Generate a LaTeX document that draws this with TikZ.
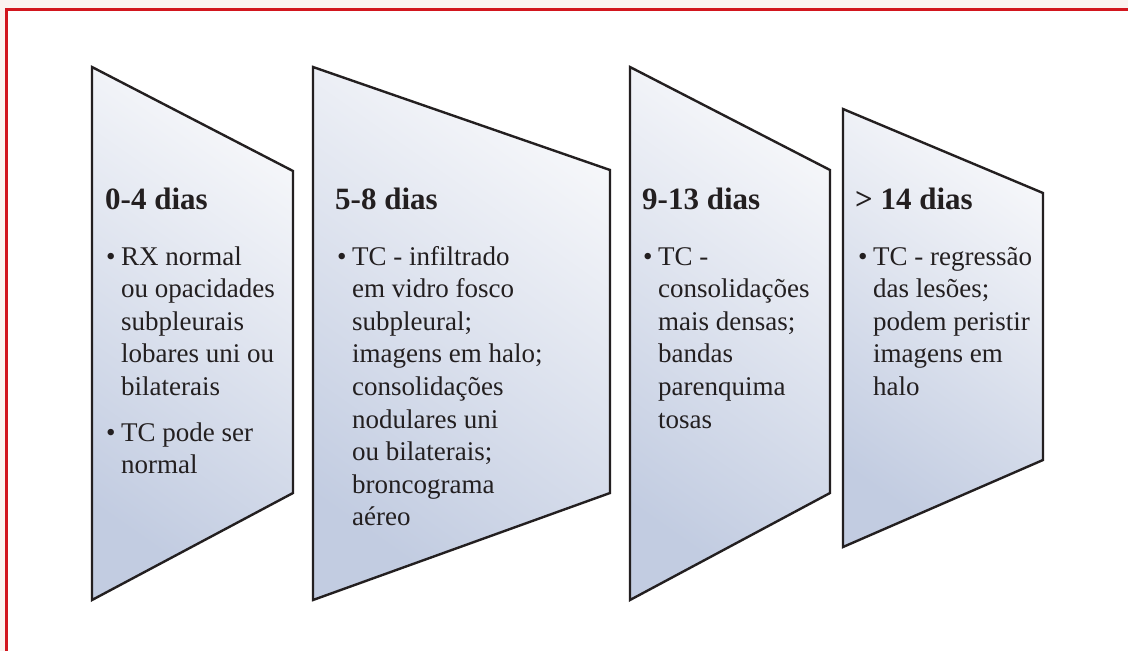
\documentclass[tikz,border=0pt]{standalone}
\usepackage{fontspec}
\setmainfont{Liberation Serif}
\definecolor{framered}{HTML}{D2161E}
\definecolor{bandpink}{HTML}{FBF3F0}
\definecolor{shadetop}{HTML}{F6F7FA}
\definecolor{shadebot}{HTML}{C2CCE1}
\definecolor{edgeink}{HTML}{231F20}
\newcommand\bul{\makebox[15pt][l]{\textbullet}}
\newcommand\hang{\hangindent=15pt\hangafter=1\relax}
\begin{document}
\begin{tikzpicture}[x=1pt,y=-1pt,
  stage/.style={draw=edgeink, line width=2.4pt, line join=miter, top color=shadetop, bottom color=shadebot, shading angle=-35},
  head/.style={anchor=base west, inner sep=0pt, text=edgeink, font=\fontsize{31}{36}\selectfont\bfseries},
  body/.style={anchor=base west, inner sep=0pt, text=edgeink, font=\fontsize{27}{32.6}\selectfont}]
\useasboundingbox (0,0) rectangle (1128,651);
\fill[white] (0,0) rectangle (1128,651);
\fill[bandpink] (0,0) rectangle (1128,8);
\fill[bandpink] (0,0) rectangle (5.3,651);
\draw[framered, line width=3pt] (5.3,9.5) -- (1128,9.5);
\draw[framered, line width=3pt] (6.8,8) -- (6.8,651);

% stages
\path[stage] (92,67) -- (293,171) -- (293,493) -- (92,600) -- cycle;
\path[stage] (313,67) -- (610,170) -- (610,493) -- (313,600) -- cycle;
\path[stage] (630,67) -- (830,170) -- (830,493) -- (630,600) -- cycle;
\path[stage] (843,109) -- (1043,193) -- (1043,460) -- (843,547) -- cycle;

% headings
\node[head] (h1) at (105,209) {0-4 dias};
\node[head] (h2) at (335,209) {5-8 dias};
\node[head] (h3) at (642,209) {9-13 dias};
\node[head] (h4) at (855,209) {> 14 dias};

% bodies
\node[body] (b1) at (106,265) {\parbox[t]{300pt}{\hang\bul RX normal\newline ou opacidades\newline subpleurais\newline lobares uni ou\newline bilaterais\par\vspace{13pt}\hang\bul TC pode ser\newline normal}};
\node[body] (b2) at (337,265) {\parbox[t]{300pt}{\hang\bul TC - infiltrado\newline em vidro fosco\newline subpleural;\newline imagens em halo;\newline consolidações\newline nodulares uni\newline ou bilaterais;\newline broncograma\newline aéreo}};
\node[body] (b3) at (643,265) {\parbox[t]{300pt}{\hang\bul TC -\newline consolidações\newline mais densas;\newline bandas\newline parenquima\newline tosas}};
\node[body] (b4) at (858,265) {\parbox[t]{300pt}{\hang\bul TC - regressão\newline das lesões;\newline podem peristir\newline imagens em\newline halo}};
\end{tikzpicture}
\end{document}
